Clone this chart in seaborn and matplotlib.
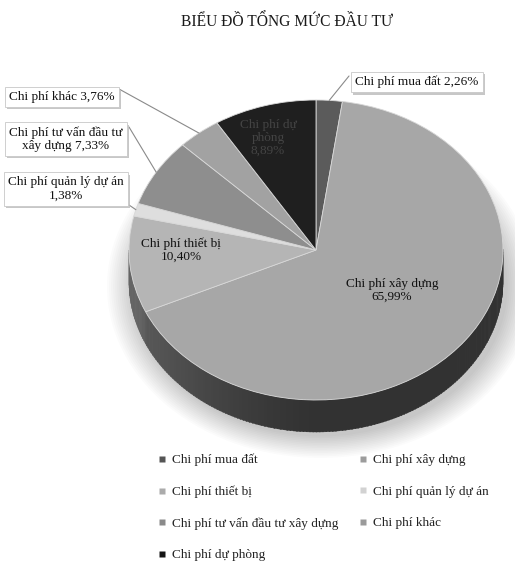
import numpy as np
import matplotlib
matplotlib.use("Agg")
import matplotlib.pyplot as plt
from matplotlib.lines import Line2D
from matplotlib.patches import Ellipse, Rectangle
import seaborn as sns

sns.set_theme(style="white")
plt.rcParams["font.family"] = ["Liberation Serif", "DejaVu Serif"]

# ---- data -------------------------------------------------------------
title = "BIỂU ĐỒ TỔNG MỨC ĐẦU TƯ"
categories = [
    "Chi phí mua đất",
    "Chi phí xây dựng",
    "Chi phí thiết bị",
    "Chi phí quản lý dự án",
    "Chi phí tư vấn đầu tư xây dựng",
    "Chi phí khác",
    "Chi phí dự phòng",
]
shares = [2.26, 65.99, 10.40, 1.38, 7.33, 3.76, 8.89]
colors = ["#5b5b5b", "#a7a7a7", "#b5b5b5", "#dedede", "#8e8e8e", "#a2a2a2", "#1f1f1f"]
legend_colors = ["#555555", "#9c9c9c", "#ababab", "#d2d2d2", "#8a8a8a", "#9a9a9a", "#141414"]

W, H = 515, 565
fig = plt.figure(figsize=(W / 100, H / 100), dpi=100)

# overlay axes in pixel units for title, callouts and legend
ax = fig.add_axes([0, 0, 1, 1])
ax.set_xlim(0, W)
ax.set_ylim(H, 0)
ax.axis("off")

# ---- tilted pie -------------------------------------------------------
cx, cy, rx, ry, depth = 316, 250, 187, 150, 32
d = depth / ry
left, right = cx - rx, cx + rx
top, bottom = cy - ry, cy + ry + depth
pax = fig.add_axes([left / W, 1 - bottom / H, (right - left) / W, (bottom - top) / H])
pax.set_zorder(ax.get_zorder() - 1)

vals = np.array(shares)
fr = vals / vals.sum()
cum = np.concatenate([[0], np.cumsum(fr)])

# soft shadow under the disc
for k in range(14):
    s = 1.0 + 0.011 * k
    pax.add_patch(Ellipse((0.025, -d - 0.03), 2 * s, 2 * s, facecolor="#000000",
                          alpha=0.017, edgecolor="none", zorder=0, clip_on=False))

# side band of the front half, shaded by angle
step = 1.0
for t in np.arange(180.0, 360.0, step):
    tm = t + step / 2
    frac = ((90 - tm) % 360) / 360
    idx = int(np.searchsorted(cum, frac, side="right") - 1)
    idx = min(max(idx, 0), len(vals) - 1)
    base = np.array(matplotlib.colors.to_rgb(colors[idx]))
    f = 0.30 + 0.26 * max(0.0, -np.cos(np.radians(tm))) ** 1.4
    c = np.clip(base * f, 0, 1)
    a = np.radians([t, t + step + 0.3])
    xs = [np.cos(a[0]), np.cos(a[1]), np.cos(a[1]), np.cos(a[0])]
    ys = [np.sin(a[0]), np.sin(a[1]), np.sin(a[1]) - d, np.sin(a[0]) - d]
    pax.fill(xs, ys, color=c, lw=0.3, ec=c, zorder=1, clip_on=False)

wedges, _ = pax.pie(vals, colors=colors, startangle=90, counterclock=False,
                    wedgeprops=dict(edgecolor="#d8d8d8", linewidth=0.6),
                    radius=1.0, center=(0, 0))
for w in wedges:
    w.set_zorder(2)
    w.set_clip_on(False)
pax.set_aspect("auto")
pax.set_xlim(-1, 1)
pax.set_ylim(-1 - d, 1)
pax.axis("off")

# ---- title ------------------------------------------------------------
ax.text(287, 22, title, ha="center", va="center", fontsize=11.2, color="#1a1a1a")

# ---- labels inside wedges ---------------------------------------------
inside = {
    1: ((392, 290), "Chi phí xây dựng\n65,99%", "#111111"),
    2: ((181, 250), "Chi phí thiết bị\n10,40%", "#111111"),
    6: ((268, 138), "Chi phí dự\nphòng\n8,89%", "#444444"),
}
for i, (pos, txt, col) in inside.items():
    ax.text(pos[0], pos[1], txt, ha="center", va="center", fontsize=9.5,
            color=col, linespacing=1.1)

# ---- callout boxes with leader lines ----------------------------------
callouts = {
    0: ((417, 82), "Chi phí mua đất 2,26%", (349, 76)),
    5: ((62, 97), "Chi phí khác 3,76%", (119, 89)),
    4: ((66, 139), "Chi phí tư vấn đầu tư\nxây dựng 7,33%", (129, 127)),
    3: ((66, 189), "Chi phí quản lý dự án\n1,38%", (129, 205)),
}
boxes = []
for i, (pos, txt, anchor) in callouts.items():
    mid = np.radians(90 - 360 * (cum[i] + cum[i + 1]) / 2)
    px, py = pax.transData.transform((np.cos(mid), np.sin(mid)))
    ex, ey = ax.transData.inverted().transform((px, py))
    ax.plot([anchor[0], ex], [anchor[1], ey], color="#8a8a8a", lw=0.8, zorder=3)
    boxes.append(ax.text(pos[0], pos[1], txt, ha="center", va="center", fontsize=9.5,
                         color="#111111", linespacing=1.15, zorder=5,
                         bbox=dict(boxstyle="square,pad=0.3", fc="white",
                                   ec="#c8c8c8", lw=0.6)))

# drop shadows behind the callout boxes
fig.canvas.draw()
inv = ax.transData.inverted()
for t in boxes:
    bb = t.get_bbox_patch().get_window_extent()
    (x0, y0), (x1, y1) = inv.transform([[bb.x0, bb.y0], [bb.x1, bb.y1]])
    ax.add_patch(Rectangle((min(x0, x1) + 2, min(y0, y1) + 2.5), abs(x1 - x0),
                           abs(y1 - y0), fc="#bdbdbd", ec="none", alpha=0.85, zorder=4))

# ---- legend (row-major order laid out in two columns) ------------------
order = [0, 2, 4, 6, 1, 3, 5]
handles = [Line2D([], [], marker="s", linestyle="none", markersize=4.5,
                  markerfacecolor=legend_colors[i], markeredgecolor="none")
           for i in order]
labels = [categories[i] for i in order]
leg = ax.legend(handles, labels, ncol=2, loc="upper left",
                bbox_to_anchor=(158, 454), bbox_transform=ax.transData,
                frameon=False, fontsize=9.5, handlelength=0.6, handletextpad=0.45,
                labelspacing=1.45, columnspacing=1.55, borderpad=0, borderaxespad=0)
for t in leg.get_texts():
    t.set_color("#222222")

fig.savefig("out.png", dpi=100, facecolor="white")
